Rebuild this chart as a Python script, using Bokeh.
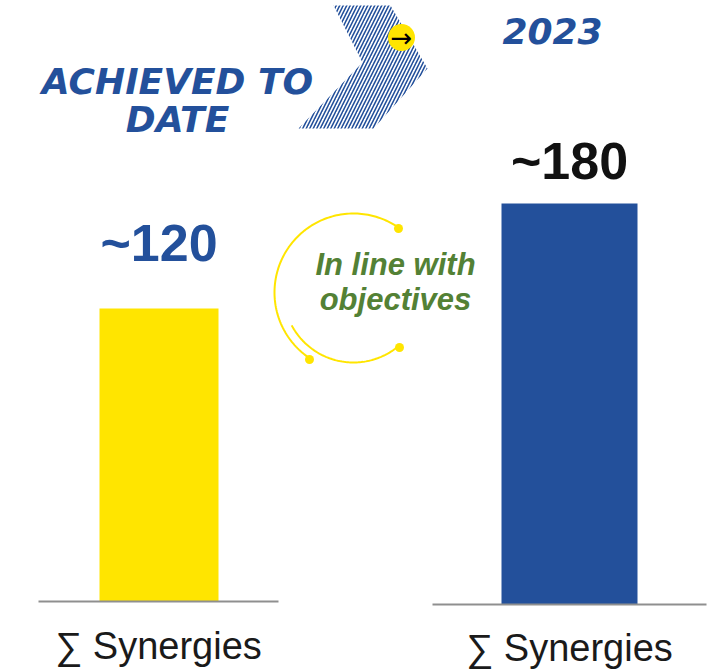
import numpy as np
from bokeh.plotting import figure
from bokeh.models import Range1d
from bokeh.core.properties import value
from bokeh.embed import file_html
from bokeh.resources import INLINE

# ---- data ----
categories = ["Achieved to date", "2023"]
values = [120, 180]
value_labels = ["~120", "~180"]
category_titles = [["ACHIEVED TO", "DATE"], ["2023"]]
axis_labels = ["\u2211 Synergies", "\u2211 Synergies"]
note_lines = ["In line with", "objectives"]

BLUE = "#23509B"
YELLOW = "#FFE500"
GREEN = "#538135"
GRAY = "#8F8F8F"

W, H = 712, 671
K1 = 2.44167   # px per unit, left panel
K2 = 2.22778   # px per unit, right panel


def bl(y, size):
    """baseline (px) -> anchor used by the renderer"""
    return y - 0.37 * size


p = figure(width=W, height=H, output_backend="svg", toolbar_location=None,
           x_range=Range1d(0, W), y_range=Range1d(-28.67, 246.14),
           min_border=0)
p.axis.visible = False
p.grid.visible = False
p.outline_line_color = None
p.background_fill_color = "white"
# second panel has its own scale, plus a pixel-like layout range
p.extra_y_ranges = {"r2": Range1d(-30.07, 271.12), "px": Range1d(H, 0)}

# ---- decorative chevron ----
p.patch(x=[333, 390, 427, 373, 298, 362], y=[5, 5, 68, 128, 128, 62],
        y_range_name="px", fill_color=None, line_color=None,
        hatch_pattern="/", hatch_color=BLUE, hatch_scale=7, hatch_weight=1.6)
p.scatter(x=[401], y=[37], size=27, marker="circle", fill_color=YELLOW,
          line_color=None, y_range_name="px")
p.text(x=[401], y=[37], text=["\u2192"], y_range_name="px",
       text_font=value("DejaVu Sans"), text_font_size="26px",
       text_color="black", text_align="center", text_baseline="middle")

# ---- titles ----
p.text(x=[177, 177], y=[bl(94, 36), bl(132, 36)], text=category_titles[0],
       y_range_name="px",
       text_font=value("DejaVu Sans"), text_font_style="bold italic",
       text_font_size="36px", text_color=BLUE, text_align="center",
       text_baseline="alphabetic")
p.text(x=[552], y=[bl(44, 36)], text=category_titles[1], y_range_name="px",
       text_font=value("DejaVu Sans"), text_font_style="bold italic",
       text_font_size="36px", text_color=BLUE, text_align="center",
       text_baseline="alphabetic")

# ---- bars ----
p.vbar(x=[158.5], width=119, top=[values[0]], bottom=0,
       fill_color=YELLOW, line_color=None)
p.vbar(x=[569], width=136, top=[values[1]], bottom=0,
       fill_color=BLUE, line_color=None, y_range_name="r2")

# baselines
p.segment(x0=[38], x1=[278], y0=[0], y1=[0], line_color=GRAY, line_width=2)
p.segment(x0=[432], x1=[706], y0=[0], y1=[0], line_color=GRAY, line_width=2,
          y_range_name="r2")

# value labels (offset above bar top, in px converted to units)
p.text(x=[158.5], y=[values[0] + (46 + 0.37 * 52) / K1], text=[value_labels[0]],
       text_font=value("Liberation Sans"), text_font_style="bold",
       text_font_size="52px", text_color=BLUE, text_align="center",
       text_baseline="alphabetic")
p.text(x=[569], y=[values[1] + (23 + 0.37 * 52) / K2], text=[value_labels[1]],
       text_font=value("Liberation Sans"), text_font_style="bold",
       text_font_size="52px", text_color="#111111", text_align="center",
       text_baseline="alphabetic", y_range_name="r2")

# category labels
p.text(x=[158, 569], y=[bl(660, 38), bl(662, 38)], text=axis_labels,
       y_range_name="px",
       text_font=value("Liberation Sans"), text_font_size="38px",
       text_color="#1A1A1A", text_align="center", text_baseline="alphabetic")

# ---- "in line with objectives" arcs ----
cx, cy = 353, 292
t1 = np.radians(np.linspace(55, 237, 120))
p.line(x=cx + 79 * np.cos(t1), y=cy - 79 * np.sin(t1), y_range_name="px",
       line_color=YELLOW, line_width=2)
t2 = np.radians(np.linspace(208, 310, 80))
p.line(x=cx + 70 * np.cos(t2), y=cy - 70 * np.sin(t2), y_range_name="px",
       line_color=YELLOW, line_width=2)
p.scatter(x=[398, 309, 399], y=[228, 359, 347], size=9, marker="circle",
          fill_color=YELLOW, line_color=None, y_range_name="px")

p.text(x=[395, 395], y=[bl(275, 31), bl(310, 31)], text=note_lines,
       y_range_name="px",
       text_font=value("Liberation Sans"), text_font_style="bold italic",
       text_font_size="31px", text_color=GREEN, text_align="center",
       text_baseline="alphabetic")

open("out.html", "w").write(file_html(p, INLINE))
